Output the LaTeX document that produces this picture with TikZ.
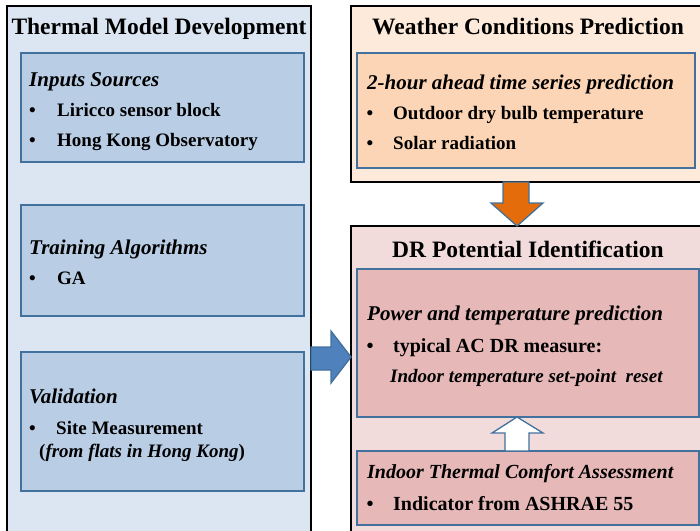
\documentclass[tikz,border=0pt]{standalone}
\usepackage{fontspec}
\setmainfont{Liberation Serif}
\usepackage{tikz}
\usetikzlibrary{calc,positioning}

\definecolor{leftback}{HTML}{DCE6F2}
\definecolor{leftfill}{HTML}{B9CDE5}
\definecolor{weatherback}{HTML}{FDEADA}
\definecolor{weatherfill}{HTML}{FBD5B5}
\definecolor{drback}{HTML}{F2DCDB}
\definecolor{drfill}{HTML}{E6B9B8}
\definecolor{boxline}{HTML}{41719C}
\definecolor{arrowblue}{HTML}{4F81BD}
\definecolor{arroworange}{HTML}{E46C0A}

\tikzset{
  outerbox/.style={draw=black, line width=1.8pt, outer sep=0pt, inner sep=0pt},
  innerbox/.style={draw=boxline, line width=1.5pt, outer sep=0pt, inner sep=0pt},
  titletext/.style={font=\fontsize{23.5}{28}\selectfont\bfseries, anchor=base, inner sep=0pt},
  headtext/.style={font=\fontsize{21}{25}\selectfont\bfseries\itshape, anchor=base west, inner sep=0pt},
  itemtext/.style={font=\fontsize{19}{23}\selectfont\bfseries, anchor=base west, inner sep=0pt},
  itemdot/.style={font=\fontsize{19}{23}\selectfont\bfseries, anchor=base, inner sep=0pt},
  blockarrow/.style={draw=boxline, line width=1.3pt, line join=miter}
}

\begin{document}
\begin{tikzpicture}[x=1pt,y=-1pt]
            \useasboundingbox (0,0) rectangle (700,530);
            \clip (0,0) rectangle (700,530);

            \node[outerbox, fill=leftback, minimum width=304, minimum height=554] (thermal) at (159,283) {};
            \node[innerbox, fill=leftfill, minimum width=283, minimum height=109] (inputs) at (162.5,107.5) {};
            \node[innerbox, fill=leftfill, minimum width=283, minimum height=111] (training) at (162.5,260.5) {};
            \node[innerbox, fill=leftfill, minimum width=283, minimum height=139] (validation) at (162.5,421.5) {};

            \node[outerbox, fill=weatherback, minimum width=369, minimum height=176] (weather) at (535.5,94) {};
            \node[innerbox, fill=weatherfill, minimum width=338, minimum height=115] (series) at (526,110.5) {};

            \node[outerbox, fill=drback, minimum width=369, minimum height=334] (dr) at (535.5,393) {};
            \node[innerbox, fill=drfill, minimum width=342, minimum height=148] (power) at (528,343) {};
            \node[innerbox, fill=drfill, minimum width=342, minimum height=74] (comfort) at (528,488) {};

            \node[titletext] (thermaltitle) at (159,34) {Thermal Model Development};
            \node[headtext] (inputshead) at (29,86) {Inputs Sources};
            \node[itemdot] (dota) at (32.5,116) {•};
            \node[itemtext] (liricco) at (57,116) {Liricco sensor block};
            \node[itemdot] (dotb) at (32.5,146) {•};
            \node[itemtext] (hko) at (57,146) {Hong Kong Observatory};
            \node[headtext] (traininghead) at (29,254) {Training Algorithms};
            \node[itemdot] (dotc) at (32.5,284) {•};
            \node[itemtext] (ga) at (57,284) {GA};
            \node[headtext] (validationhead) at (29,403) {Validation};
            \node[itemdot] (dotd) at (32.5,434) {•};
            \node[itemtext] (site) at (56,434) {Site Measurement};
            \node[itemtext] (flats) at (39,457) {(\textit{from flats in Hong Kong})};

            \node[titletext] (weathertitle) at (528,34) {Weather Conditions Prediction};
            \node[headtext] (serieshead) at (367,89) {2-hour ahead time series prediction};
            \node[itemdot] (dote) at (370,119) {•};
            \node[itemtext] (outdoor) at (393,119) {Outdoor dry bulb temperature};
            \node[itemdot] (dotf) at (370,149) {•};
            \node[itemtext] (solar) at (393,149) {Solar radiation};

            \node[titletext] (drtitle) at (528,257) {DR Potential Identification};
            \node[headtext] (powerhead) at (367,320) {Power and temperature prediction};
            \node[itemdot, font=\fontsize{20}{24}\selectfont\bfseries] (dotg) at (370,352) {•};
            \node[itemtext, font=\fontsize{20}{24}\selectfont\bfseries] (typical) at (393,352) {typical AC DR measure:};
            \node[itemtext, font=\fontsize{19}{23}\selectfont\bfseries\itshape] (setpoint) at (390,382) {Indoor temperature set-point\ \ reset};
            \node[headtext, font=\fontsize{20}{24}\selectfont\bfseries\itshape] (comforthead) at (367,478) {Indoor Thermal Comfort Assessment};
            \node[itemdot, font=\fontsize{20}{24}\selectfont\bfseries] (doth) at (370,510) {•};
            \node[itemtext, font=\fontsize{20}{24}\selectfont\bfseries] (ashrae) at (393,510) {Indicator from ASHRAE 55};

            \coordinate (bluetip) at (dr.west |- 0,357);
            \coordinate (orangetip) at (weather.south -| 517,0);
            \coordinate (whitetip) at (power.south -| 517,0);

            \filldraw[blockarrow, fill=arrowblue] (thermal.east |- 0,347) -- (331,347) -- (331,331) -- (bluetip)
                -- (331,383) -- (331,370) -- (thermal.east |- 0,370) -- cycle;
            \filldraw[blockarrow, fill=arroworange] (503,182) -- (529,182) -- (529,203) -- (543,203)
                -- (517,226) -- (491,203) -- (503,203) -- cycle;
            \filldraw[blockarrow, fill=white] (whitetip) -- (543,433) -- (529,433) -- (comfort.north -| 529,0)
                -- (comfort.north -| 505,0) -- (505,433) -- (492,433) -- cycle;
        \end{tikzpicture}
\end{document}
